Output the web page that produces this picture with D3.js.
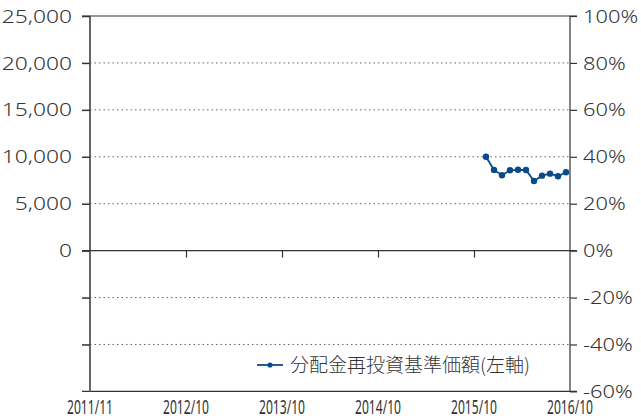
<!DOCTYPE html>
<html>
<head>
<meta charset="utf-8">
<script src="https://cdn.jsdelivr.net/npm/d3@7"></script>
<style>
  body { margin: 0; background: #fff; }
  svg text { font-family: "Noto Sans", "Noto Sans CJK JP", sans-serif; font-weight: 300; fill: #333; }
  svg text.jp { font-family: "Noto Sans CJK JP", sans-serif; font-weight: 300; }
  svg text.month { font-weight: 400; }
</style>
</head>
<body>
<div class="chart"></div>
<script>
// month labels on the x axis (one every 12 months)
const xLabels = ['2011/11', '2012/10', '2013/10', '2014/10', '2015/10', '2016/10'];
// months of the series, counted from 2011/11 (index 0)
const months = ['2015/12', '2016/01', '2016/02', '2016/03', '2016/04', '2016/05',
  '2016/06', '2016/07', '2016/08', '2016/09', '2016/10'];
const navValues = [10000, 8600, 8030, 8560, 8610, 8590, 7420, 7990, 8200, 7930, 8350];
const leftTicks = [0, 5000, 10000, 15000, 20000, 25000];
const rightTicks = [-60, -40, -20, 0, 20, 40, 60, 80, 100];
const seriesName = '分配金再投資基準価額(左軸)';
const periodText = '(2011年11月14日～2016年10月14日)';

const w = 641;
const h = 416;
const padding = { top: 16, right: 71, bottom: 24.6, left: 90 };

const monthIndex = (m) => {
  const [y, mo] = m.split('/').map(Number);
  return (y - 2011) * 12 + (mo - 11);
};

// widen the numeric labels a little, the original font runs wider
const widen = (sel, k) => sel.each(function () {
  const len = this.getComputedTextLength();
  if (len > 0) {
    d3.select(this).attr('textLength', len * k).attr('lengthAdjust', 'spacingAndGlyphs');
  }
});

const xScale = d3.scaleLinear()
  .domain([0, 60])
  .range([padding.left, w - padding.right]);
const yLeft = d3.scaleLinear()
  .domain([-15000, 25000])
  .range([h - padding.bottom, padding.top]);
const yRight = d3.scaleLinear()
  .domain([-60, 100])
  .range([h - padding.bottom, padding.top]);

const svg = d3.select('.chart')
  .append('svg')
  .attr('width', w)
  .attr('height', h);

// period caption, mostly above the visible area
svg.append('text')
  .attr('class', 'jp')
  .attr('x', w - padding.right - 2)
  .attr('y', -3.5)
  .attr('text-anchor', 'end')
  .attr('textLength', 310)
  .style('font-size', '17px')
  .text(periodText);

// dotted grid
svg.append('g')
  .selectAll('line')
  .data(rightTicks.filter((d) => d !== 0 && d !== -60 && d !== 100))
  .join('line')
  .attr('x1', padding.left)
  .attr('x2', w - padding.right)
  .attr('y1', (d) => yRight(d))
  .attr('y2', (d) => yRight(d))
  .attr('stroke', '#666')
  .attr('stroke-width', 1)
  .attr('stroke-dasharray', '1.5,3');

// top and bottom frame lines
svg.append('g')
  .selectAll('line')
  .data([100, -60])
  .join('line')
  .attr('x1', padding.left - 8)
  .attr('x2', w - padding.right + 7)
  .attr('y1', (d) => yRight(d))
  .attr('y2', (d) => yRight(d))
  .attr('stroke', '#333')
  .attr('stroke-width', 1.2);

// left axis
const leftAxis = svg.append('g')
  .attr('transform', `translate(${padding.left}, 0)`)
  .call(d3.axisLeft(yLeft)
    .tickValues([-10000, -5000].concat(leftTicks))
    .tickSize(8)
    .tickPadding(10)
    .tickFormat((d) => (d < 0 ? '' : d3.format(',')(d))));
leftAxis.select('.domain').attr('stroke', '#666').attr('stroke-width', 2).attr('d', `M0,${yLeft(25000)}V${h - padding.bottom}`);
leftAxis.selectAll('.tick line').attr('stroke', '#333').attr('stroke-width', 1.5);
leftAxis.selectAll('text').style('font-size', '19px').attr('fill', '#333').call(widen, 1.2);

// right axis
const rightAxis = svg.append('g')
  .attr('transform', `translate(${w - padding.right}, 0)`)
  .call(d3.axisRight(yRight)
    .tickValues(rightTicks)
    .tickSize(7)
    .tickPadding(6)
    .tickFormat((d) => d + '%'));
rightAxis.select('.domain').attr('stroke', '#333').attr('stroke-width', 1.2).attr('d', `M0,${yRight(100)}V${yRight(-60)}`);
rightAxis.selectAll('.tick line').attr('stroke', '#333').attr('stroke-width', 1.2);
rightAxis.selectAll('text').style('font-size', '19px').attr('fill', '#333').call(widen, 1.15);

// zero line with month ticks
const xAxis = svg.append('g')
  .attr('transform', `translate(0, ${yLeft(0)})`)
  .call(d3.axisBottom(xScale)
    .tickValues([12, 24, 36, 48])
    .tickSize(7)
    .tickFormat(''));
xAxis.select('.domain').attr('stroke', '#333').attr('stroke-width', 1.2)
  .attr('d', `M${padding.left - 8},0H${w - padding.right + 7}`);
xAxis.selectAll('.tick line').attr('stroke', '#333').attr('stroke-width', 1.2);

// x labels under the chart
svg.append('g')
  .selectAll('text')
  .data(xLabels)
  .join('text')
  .attr('class', 'month')
  .attr('x', (d, i) => xScale(i * 12))
  .attr('y', h - 2)
  .attr('text-anchor', 'middle')
  .attr('textLength', 46)
  .attr('lengthAdjust', 'spacingAndGlyphs')
  .style('font-size', '19px')
  .text((d) => d);

// series
const color = '#0b4a8a';
const points = months.map((m, i) => ({ x: monthIndex(m) + 0.5, v: navValues[i] }));
svg.append('path')
  .datum(points)
  .attr('fill', 'none')
  .attr('stroke', color)
  .attr('stroke-width', 1.8)
  .attr('d', d3.line().x((d) => xScale(d.x)).y((d) => yLeft(d.v)));
svg.append('g')
  .selectAll('circle')
  .data(points)
  .join('circle')
  .attr('cx', (d) => xScale(d.x))
  .attr('cy', (d) => yLeft(d.v))
  .attr('r', 3.2)
  .attr('fill', color);

// legend
const legend = svg.append('g').attr('transform', 'translate(257, 365)');
legend.append('line')
  .attr('x1', 0).attr('x2', 26)
  .attr('stroke', color).attr('stroke-width', 1.8);
legend.append('circle')
  .attr('cx', 13).attr('r', 2.6).attr('fill', color);
legend.append('text')
  .attr('class', 'jp')
  .attr('x', 33)
  .attr('y', 6.5)
  .style('font-size', '19px')
  .text(seriesName);
</script>
</body>
</html>
